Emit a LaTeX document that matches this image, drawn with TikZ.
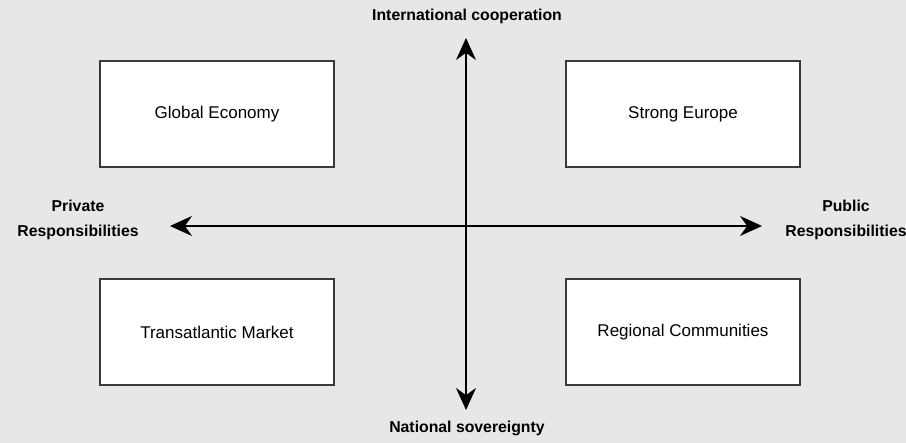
\documentclass[tikz,border=0pt]{standalone}
\usepackage{fontspec}
\setmainfont{Liberation Sans}
\usetikzlibrary{arrows.meta}
\definecolor{bggray}{HTML}{E6E7E8}
\definecolor{boxline}{HTML}{3A3A3A}
\tikzset{
  scenario/.style={draw=boxline, line width=1.2pt, fill=white, minimum width=234pt, minimum height=106pt, font=\fontsize{17}{20}\selectfont},
  axislabel/.style={font=\bfseries\fontsize{15.8}{25}\selectfont, align=center},
  axis/.style={line width=1.6pt, {Stealth[length=22pt,width=20pt]}-{Stealth[length=22pt,width=20pt]}}
}
\begin{document}
\begin{tikzpicture}[x=1pt,y=1pt]
  % background
  \fill[bggray] (0,0) rectangle (906,443);
  \useasboundingbox (0,0) rectangle (906,443);
  % scenarios
  \node[scenario] (global) at (217,329) {Global Economy};
  \node[scenario] (europe) at (683,329) {Strong Europe};
  \node[scenario] (market) at (217,111) {Transatlantic Market};
  \node[scenario] (regional) at (683,111) {Regional Communities};
  % axes
  \coordinate (top) at (466,405);
  \coordinate (bottom) at (466,33);
  \coordinate (left) at (170,217);
  \coordinate (right) at (762,217);
  \draw[axis] (bottom) -- (top);
  \draw[axis] (left) -- (right);
  % axis labels
  \node[axislabel] (intl) at (467,427) {International cooperation};
  \node[axislabel] (natl) at (467,15) {National sovereignty};
  \node[axislabel] (priv) at (78,223) {Private\\Responsibilities};
  \node[axislabel] (publ) at (846,223) {Public\\Responsibilities};
\end{tikzpicture}
\end{document}
